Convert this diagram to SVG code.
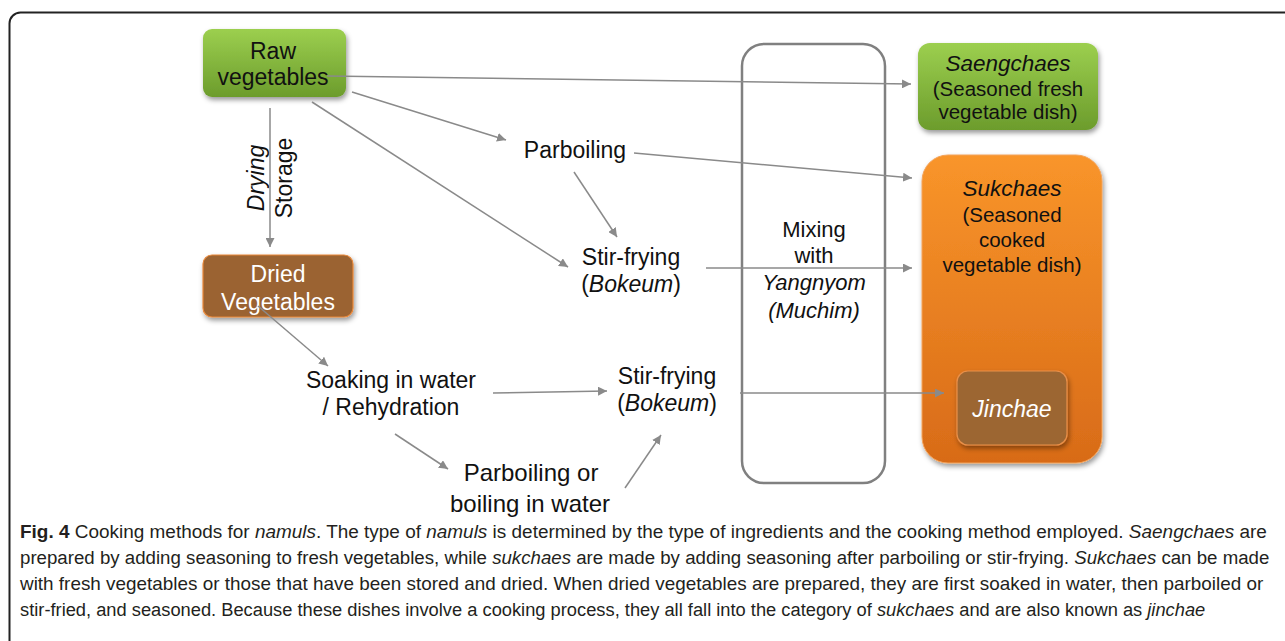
<svg xmlns="http://www.w3.org/2000/svg" width="1285" height="641" viewBox="0 0 1285 641">
  <defs>
    <linearGradient id="gGreen" x1="0" y1="0" x2="0" y2="1">
      <stop offset="0" stop-color="#9ccf4f"/>
      <stop offset="1" stop-color="#6c9c2c"/>
    </linearGradient>
    <linearGradient id="gOrange" x1="0" y1="0" x2="0" y2="1">
      <stop offset="0" stop-color="#f9952a"/>
      <stop offset="1" stop-color="#d86b18"/>
    </linearGradient>
    <filter id="shadow" x="-20%" y="-20%" width="140%" height="150%">
      <feDropShadow dx="1.5" dy="3" stdDeviation="2.5" flood-color="#000" flood-opacity="0.4"/>
    </filter>
    <marker id="arrow" viewBox="0 0 10 10" refX="10" refY="5" markerWidth="9" markerHeight="9" markerUnits="userSpaceOnUse" orient="auto">
      <path d="M0,0 L10,5 L0,10 z" fill="#8a8a8a"/>
    </marker>
    <style>
      .lbl { font-family: "Liberation Sans", Arial, sans-serif; fill: #111; text-anchor: middle; }
      .big { font-size: 23px; }
      .box { font-size: 23px; }
      .mid { font-size: 20.5px; }
      .ttl { font-size: 22.5px; }
      .mix { font-size: 22px; }
      .boil { font-size: 24px; }
      .it { font-style: italic; }
      .white { fill: #ffffff; }
      .conn { stroke: #8a8a8a; stroke-width: 1.5; fill: none; marker-end: url(#arrow); }
      .cap { font-family: "Liberation Sans", Arial, sans-serif; font-size: 19px; fill: #231f20; }
      .i { font-style: italic; }
    </style>
  </defs>

  <rect width="1285" height="641" fill="#ffffff"/>
  <!-- figure frame -->
  <rect x="9.5" y="12.5" width="1290" height="650" rx="11" fill="none" stroke="#222" stroke-width="2"/>

  <!-- mixing stage -->
  <g id="mixing">
    <rect x="742" y="44" width="143" height="439" rx="22" fill="none" stroke="#808080" stroke-width="2.5"/>
    <text class="lbl mix" x="814" y="237">Mixing</text>
    <text class="lbl mix" x="814" y="263">with</text>
    <text class="lbl mix it" x="814" y="290">Yangnyom</text>
    <text class="lbl mix it" x="814" y="318">(Muchim)</text>
  </g>

  <g id="raw-vegetables">
    <rect x="203" y="29" width="143" height="68" rx="9" fill="url(#gGreen)" filter="url(#shadow)"/>
    <text class="lbl box" x="273" y="59">Raw</text>
    <text class="lbl box" x="273" y="85">vegetables</text>
  </g>

  <g id="saengchaes">
    <rect x="918" y="43" width="180" height="87" rx="12" fill="url(#gGreen)" filter="url(#shadow)"/>
    <text class="lbl ttl it" x="1008" y="71">Saengchaes</text>
    <text class="lbl mid" x="1008" y="96">(Seasoned fresh</text>
    <text class="lbl mid" x="1008" y="119">vegetable dish)</text>
  </g>

  <g id="sukchaes">
    <rect x="922" y="155" width="180" height="308" rx="26" fill="url(#gOrange)" stroke="#f3a35a" stroke-width="1" filter="url(#shadow)"/>
    <text class="lbl ttl it" x="1012" y="196">Sukchaes</text>
    <text class="lbl mid" x="1012" y="222">(Seasoned</text>
    <text class="lbl mid" x="1012" y="247">cooked</text>
    <text class="lbl mid" x="1012" y="272">vegetable dish)</text>
  </g>

  <g id="jinchae">
    <rect x="957" y="371" width="110" height="74" rx="11" fill="#9c6633" stroke="#e9904a" stroke-width="1.2" filter="url(#shadow)"/>
    <text class="lbl big it white" x="1012" y="417">Jinchae</text>
  </g>

  <g id="dried-vegetables">
    <rect x="203" y="255" width="150" height="62" rx="9" fill="#9b6331" stroke="#e8883a" stroke-width="1.2" filter="url(#shadow)"/>
    <text class="lbl box white" x="278" y="282">Dried</text>
    <text class="lbl box white" x="278" y="310">Vegetables</text>
  </g>

  <g id="parboiling">
    <text class="lbl big" x="575" y="158">Parboiling</text>
  </g>

  <g id="stir-frying-fresh">
    <text class="lbl big" x="631" y="265">Stir-frying</text>
    <text class="lbl big" x="631" y="292">(<tspan class="it">Bokeum</tspan>)</text>
  </g>

  <g id="soaking">
    <text class="lbl big" x="391" y="388">Soaking in water</text>
    <text class="lbl big" x="391" y="415">/ Rehydration</text>
  </g>

  <g id="stir-frying-dried">
    <text class="lbl big" x="667" y="384">Stir-frying</text>
    <text class="lbl big" x="667" y="411">(<tspan class="it">Bokeum</tspan>)</text>
  </g>

  <g id="parboiling-or-boiling">
    <text class="lbl boil" x="531" y="481">Parboiling or</text>
    <text class="lbl boil" x="530" y="512">boiling in water</text>
  </g>

  <g id="drying-storage-labels">
    <text class="lbl box it" transform="translate(264,178) rotate(-90)">Drying</text>
    <text class="lbl box" transform="translate(292,178) rotate(-90)">Storage</text>
  </g>

  <g id="connectors">
    <line class="conn" x1="327" y1="76" x2="911" y2="84"/>
    <line class="conn" x1="352" y1="92" x2="506" y2="140"/>
    <line class="conn" x1="312" y1="102" x2="568" y2="267"/>
    <line class="conn" x1="270" y1="108" x2="270" y2="247"/>
    <line class="conn" x1="634" y1="153" x2="912" y2="178"/>
    <line class="conn" x1="574" y1="172" x2="617" y2="237"/>
    <line class="conn" x1="706" y1="268" x2="912" y2="268"/>
    <line class="conn" x1="258" y1="306" x2="328" y2="366"/>
    <line class="conn" x1="493" y1="393" x2="607" y2="391"/>
    <line class="conn" x1="395" y1="434" x2="448" y2="469"/>
    <line class="conn" x1="625" y1="488" x2="661" y2="435"/>
    <line class="conn" x1="740" y1="393" x2="944" y2="393"/>
  </g>

  <g id="caption">
    <text class="cap" transform="translate(20,538) scale(0.998,1)"><tspan font-weight="bold">Fig. 4</tspan> Cooking methods for <tspan class="i">namuls</tspan>. The type of <tspan class="i">namuls</tspan> is determined by the type of ingredients and the cooking method employed. <tspan class="i">Saengchaes</tspan> are</text>
    <text class="cap" transform="translate(20,564) scale(0.983,1)">prepared by adding seasoning to fresh vegetables, while <tspan class="i">sukchaes</tspan> are made by adding seasoning after parboiling or stir-frying. <tspan class="i">Sukchaes</tspan> can be made</text>
    <text class="cap" transform="translate(20,590) scale(0.995,1)">with fresh vegetables or those that have been stored and dried. When dried vegetables are prepared, they are first soaked in water, then parboiled or</text>
    <text class="cap" transform="translate(20,616) scale(0.963,1)">stir-fried, and seasoned. Because these dishes involve a cooking process, they all fall into the category of <tspan class="i">sukchaes</tspan> and are also known as <tspan class="i">jinchae</tspan></text>
  </g>
</svg>
